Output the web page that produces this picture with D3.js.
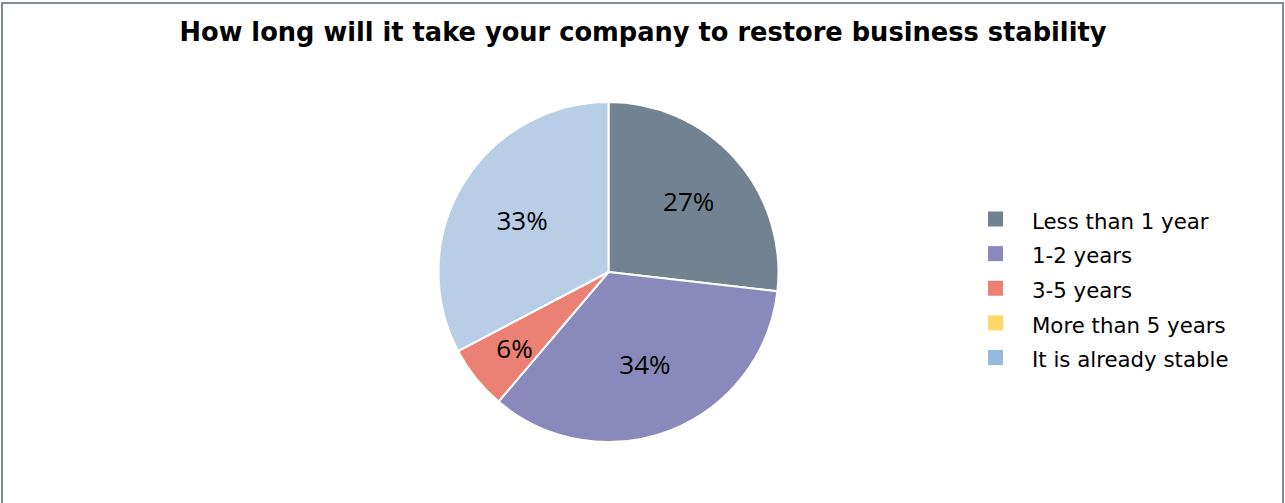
<!DOCTYPE html>
<html>
<head>
<meta charset="utf-8">
<script src="https://cdn.jsdelivr.net/npm/d3@7"></script>
<style>
  html, body { margin: 0; padding: 0; background: #fff; }
  svg { display: block; }
</style>
</head>
<body>
<svg id="chart" width="1285" height="503"></svg>
<script>
const title = "How long will it take your company to restore business stability";
const categories = ["Less than 1 year", "1-2 years", "3-5 years", "More than 5 years", "It is already stable"];
const values = [26.8, 34.4, 6.1, 0, 32.7];
const sliceColors = ["#738290", "#8a89bb", "#eb8074", "#ffd766", "#b8cde6"];
const legendColors = ["#738290", "#8a89bb", "#eb8074", "#ffd766", "#97b9dd"];

const svg = d3.select("#chart");
const W = 1285, H = 503;

// frame
svg.append("rect")
  .attr("x", 2).attr("y", 3)
  .attr("width", W - 4).attr("height", H + 20)
  .attr("fill", "#fff")
  .attr("stroke", "#808c98")
  .attr("stroke-width", 2);

// title
svg.append("text")
  .attr("x", 643).attr("y", 41)
  .attr("text-anchor", "middle")
  .attr("font-family", "DejaVu Sans")
  .attr("font-weight", "bold")
  .attr("font-size", 25.7)
  .attr("fill", "#000")
  .text(title);

const cx = 608.5, cy = 272, r = 170;
const data = categories.map((c, i) => ({ cat: c, value: values[i], i }));

const pie = d3.pie().value(d => d.value).sort(null);
const arcs = pie(data);
const arc = d3.arc().innerRadius(0).outerRadius(r);

// label placed slightly beyond the geometric centroid of each sector
function labelPos(d) {
  const a = d.endAngle - d.startAngle;
  const dist = 1.07 * (4 * r * Math.sin(a / 2)) / (3 * a);
  const mid = (d.startAngle + d.endAngle) / 2;
  return [Math.sin(mid) * dist, -Math.cos(mid) * dist];
}

const g = svg.append("g").attr("transform", `translate(${cx},${cy})`);
g.selectAll("path.slice")
  .data(arcs.filter(d => d.data.value > 0))
  .join("path")
  .attr("class", "slice")
  .attr("d", arc)
  .attr("fill", d => sliceColors[d.data.i])
  .attr("stroke", "#fff")
  .attr("stroke-width", 2)
  .attr("stroke-linejoin", "round");

const total = d3.sum(values);
g.selectAll("text.lbl")
  .data(arcs.filter(d => d.data.value > 0))
  .join("text")
  .attr("class", "lbl")
  .attr("transform", d => `translate(${labelPos(d)})`)
  .attr("text-anchor", "middle")
  .attr("dy", "0.36em")
  .attr("y", 1)
  .attr("font-family", "Open Sans, Noto Sans, sans-serif")
  .attr("font-size", 26)
  .attr("fill", "#000")
  .text(d => Math.round(d.data.value / total * 100) + "%");

// legend
const legY = d3.scalePoint().domain(categories).range([219, 357.5]);
const leg = svg.append("g");
const items = leg.selectAll("g").data(categories).join("g")
  .attr("transform", d => `translate(988,${legY(d)})`);
items.append("rect")
  .attr("x", 0).attr("y", -7.5)
  .attr("width", 15).attr("height", 15)
  .attr("fill", (d, i) => legendColors[i]);
items.append("text")
  .attr("x", 44).attr("y", 2)
  .attr("dy", "0.36em")
  .attr("font-family", "DejaVu Sans")
  .attr("font-size", 21.3)
  .attr("fill", "#000")
  .text(d => d);
</script>
</body>
</html>
